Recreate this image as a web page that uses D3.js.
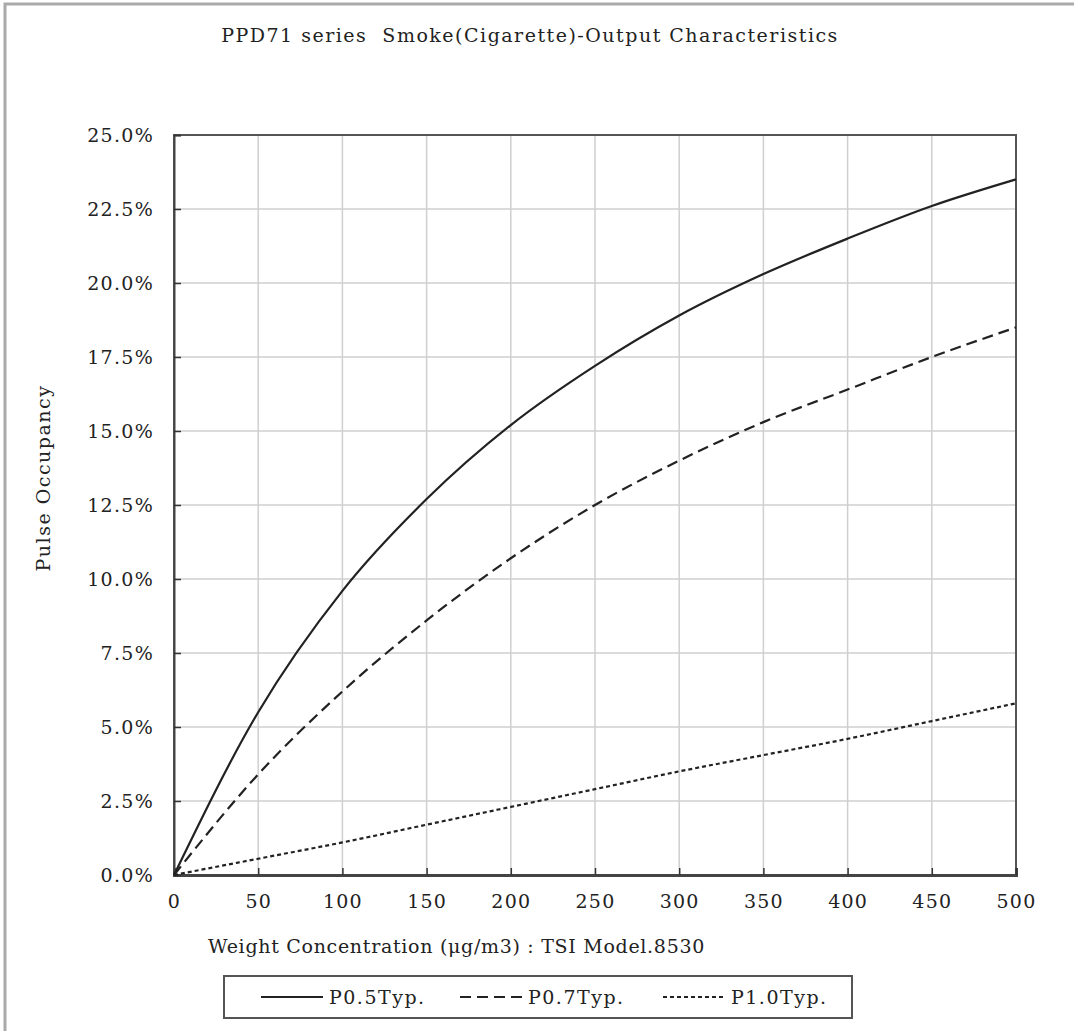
<!DOCTYPE html>
<html>
<head>
<meta charset="utf-8">
<script src="https://cdn.jsdelivr.net/npm/d3@7"></script>
<style>
  body { margin: 0; background: #fff; }
  text { font-family: "DejaVu Serif", "Liberation Serif", serif; fill: #222; }
</style>
</head>
<body>
<svg id="chart" width="1074" height="1031"></svg>
<script>
// weight concentration (ug/m3) and pulse occupancy (%)
var concentration = [0, 50, 100, 150, 200, 250, 300, 350, 400, 450, 500];
var p05 = [0, 5.5, 9.6, 12.7, 15.2, 17.2, 18.9, 20.3, 21.5, 22.6, 23.5];
var p07 = [0, 3.4, 6.2, 8.6, 10.7, 12.5, 14.0, 15.3, 16.4, 17.5, 18.5];
var p10 = [0, 0.55, 1.1, 1.7, 2.3, 2.9, 3.5, 4.05, 4.6, 5.2, 5.8];
var seriesNames = ['P0.5Typ.', 'P0.7Typ.', 'P1.0Typ.'];
var xTicks = d3.range(0, 501, 50);
var yTicks = d3.range(0, 25.01, 2.5);

var svg = d3.select('#chart');

var margin = {left: 174, top: 135, right: 1016, bottom: 875};

var x = d3.scaleLinear().domain([0, 500]).range([margin.left, margin.right]);
var y = d3.scaleLinear().domain([0, 25]).range([margin.bottom, margin.top]);

// outer frame (only top and left edges visible)
svg.append('path')
  .attr('d', 'M5,1031 L5,4 L1074,4')
  .attr('fill', 'none')
  .attr('stroke', '#aaa')
  .attr('stroke-width', 3);

// grid
svg.append('g')
  .selectAll('line')
  .data(xTicks.slice(1, -1))
  .join('line')
  .attr('x1', function(d) { return x(d); })
  .attr('x2', function(d) { return x(d); })
  .attr('y1', margin.top)
  .attr('y2', margin.bottom)
  .attr('stroke', '#cfcfcf')
  .attr('stroke-width', 1.5);

svg.append('g')
  .selectAll('line')
  .data(yTicks.slice(1, -1))
  .join('line')
  .attr('y1', function(d) { return y(d); })
  .attr('y2', function(d) { return y(d); })
  .attr('x1', margin.left)
  .attr('x2', margin.right)
  .attr('stroke', '#cfcfcf')
  .attr('stroke-width', 1.5);

// plot border
svg.append('rect')
  .attr('x', margin.left)
  .attr('y', margin.top)
  .attr('width', margin.right - margin.left)
  .attr('height', margin.bottom - margin.top)
  .attr('fill', 'none')
  .attr('stroke', '#555')
  .attr('stroke-width', 2);

// axes: ticks point inward
var xAxis = d3.axisBottom(x).tickValues(xTicks).tickSize(-7).tickPadding(20)
  .tickFormat(d3.format('d'));
var gx = svg.append('g')
  .attr('transform', 'translate(0,' + margin.bottom + ')')
  .call(xAxis);
gx.select('.domain').attr('stroke', '#444').attr('stroke-width', 3);
gx.selectAll('.tick line').attr('stroke', '#333').attr('stroke-width', 1.5);
gx.selectAll('text')
  .style('font-size', '19px')
  .style('letter-spacing', '1.2px')
  .attr('fill', '#222');

var yAxis = d3.axisLeft(y).tickValues(yTicks).tickSize(-7).tickPadding(20)
  .tickFormat(function(d) { return d.toFixed(1) + '%'; });
var gy = svg.append('g')
  .attr('transform', 'translate(' + margin.left + ',0)')
  .call(yAxis);
gy.select('.domain').attr('stroke', '#444').attr('stroke-width', 2);
gy.selectAll('.tick line').attr('stroke', '#333').attr('stroke-width', 1.5);
gy.selectAll('text')
  .style('font-size', '19px')
  .style('letter-spacing', '1.3px')
  .attr('fill', '#222')
  .attr('dy', '0.35em');

// lines
var styles = [
  {data: p05, dash: null, width: 2.2},
  {data: p07, dash: '11,6', width: 2.2},
  {data: p10, dash: '4,3', width: 2.2}
];

var line = d3.line()
  .x(function(d) { return x(d[0]); })
  .y(function(d) { return y(d[1]); })
  .curve(d3.curveMonotoneX);

styles.forEach(function(s) {
  svg.append('path')
    .datum(d3.zip(concentration, s.data))
    .attr('d', line)
    .attr('fill', 'none')
    .attr('stroke', '#222')
    .attr('stroke-width', s.width)
    .attr('stroke-dasharray', s.dash);
});

// titles
svg.append('text')
  .attr('x', 530)
  .attr('y', 42)
  .attr('text-anchor', 'middle')
  .attr('xml:space', 'preserve')
  .style('font-size', '19px')
  .style('letter-spacing', '1.5px')
  .text('PPD71 series  Smoke(Cigarette)-Output Characteristics');

svg.append('text')
  .attr('x', 208)
  .attr('y', 953)
  .style('font-size', '19px')
  .style('letter-spacing', '0.7px')
  .text('Weight Concentration (\u03bcg/m3) : TSI Model.8530');

svg.append('text')
  .attr('transform', 'translate(50,478) rotate(-90)')
  .attr('text-anchor', 'middle')
  .style('font-size', '19px')
  .style('letter-spacing', '1.5px')
  .text('Pulse Occupancy');

// legend
var legend = svg.append('g');
legend.append('rect')
  .attr('x', 224)
  .attr('y', 976)
  .attr('width', 628)
  .attr('height', 42)
  .attr('fill', '#fff')
  .attr('stroke', '#555')
  .attr('stroke-width', 2);

var legendX = [261, 460, 663];
seriesNames.forEach(function(name, i) {
  legend.append('line')
    .attr('x1', legendX[i])
    .attr('x2', legendX[i] + 62)
    .attr('y1', 997)
    .attr('y2', 997)
    .attr('stroke', '#222')
    .attr('stroke-width', 2.2)
    .attr('stroke-dasharray', styles[i].dash);
  legend.append('text')
    .attr('x', legendX[i] + 68)
    .attr('y', 1004)
    .style('font-size', '19px')
    .style('letter-spacing', '1.5px')
    .text(name);
});
</script>
</body>
</html>
